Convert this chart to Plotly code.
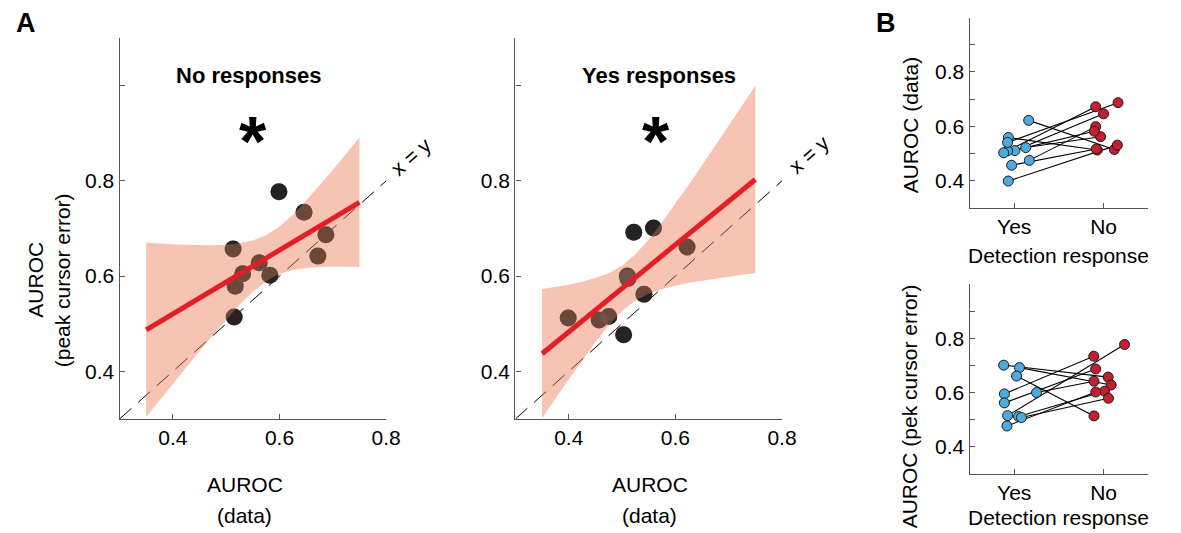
import plotly.graph_objects as go

# ---------------- data ----------------
# per-subject values (10 subjects)
yes_data = [0.559, 0.522, 0.622, 0.511, 0.510, 0.541, 0.475, 0.399, 0.457, 0.503]
yes_pred = [0.701, 0.692, 0.661, 0.595, 0.600, 0.562, 0.515, 0.512, 0.508, 0.477]
no_data = [0.513, 0.562, 0.515, 0.646, 0.672, 0.687, 0.599, 0.531, 0.517, 0.582]
no_pred = [0.657, 0.628, 0.514, 0.734, 0.642, 0.687, 0.777, 0.605, 0.579, 0.602]

# horizontal jitter of the paired plots (category 1 = Yes, 2 = No)
yes_x_top = [0.934, 1.129, 1.162, 1.007, 0.926, 0.926, 1.169, 0.934, 0.971, 0.882]
no_x_top = [1.930, 1.967, 2.121, 2.000, 1.912, 2.162, 1.912, 2.154, 1.919, 1.897]
yes_x_bot = [0.882, 1.059, 1.026, 0.890, 1.250, 0.890, 0.926, 1.048, 1.081, 0.919]
no_x_bot = [2.051, 2.085, 1.893, 1.890, 1.893, 1.912, 2.235, 2.011, 2.055, 1.912]

# regression fits and confidence bands
band_x = [0.35, 0.375, 0.40, 0.425, 0.45, 0.475, 0.50, 0.525, 0.55, 0.575,
          0.60, 0.625, 0.65, 0.675, 0.70, 0.725, 0.75]
no_fit_x = [0.35, 0.75]
no_fit_y = [0.487, 0.755]
no_band_hi = [0.670, 0.668, 0.667, 0.666, 0.665, 0.665, 0.666, 0.669, 0.675, 0.686,
              0.704, 0.729, 0.759, 0.790, 0.823, 0.857, 0.891]
no_band_lo = [0.304, 0.339, 0.374, 0.409, 0.443, 0.476, 0.509, 0.540, 0.567, 0.589,
              0.605, 0.613, 0.617, 0.619, 0.620, 0.620, 0.619]
yes_fit_x = [0.35, 0.75]
yes_fit_y = [0.437, 0.803]
yes_band_hi = [0.573, 0.577, 0.582, 0.588, 0.596, 0.606, 0.622, 0.646, 0.677, 0.713,
               0.752, 0.792, 0.833, 0.874, 0.916, 0.958, 1.000]
yes_band_lo = [0.301, 0.343, 0.383, 0.423, 0.461, 0.497, 0.527, 0.549, 0.563, 0.573,
               0.580, 0.586, 0.591, 0.595, 0.599, 0.603, 0.606]

identity = [0.3, 0.8]
a_ticks_x = [0.4, 0.6, 0.8]
a_ticks_y = [0.4, 0.6, 0.8, 1.0]
a_ticklab_y = ["0.4", "0.6", "0.8", ""]
b_ticks_y = [0.3, 0.4, 0.5, 0.6, 0.7, 0.8, 0.9, 1.0]
b_ticklab_y = ["", "0.4", "", "0.6", "", "0.8", "", ""]
b_cats = ["Yes", "No"]

# ---------------- style / layout ----------------
WIN_W, WIN_H = 1181, 533
OFF = 8                      # default page margin around the figure
FW, FH = WIN_W - OFF, WIN_H - OFF
FONT = "Liberation Sans, Arial, Helvetica, sans-serif"
AX = "#555555"
BAND = "rgba(236,120,84,0.44)"
RED = "#E41E26"
BLUE = "#4CAADD"
DRED = "#C41F30"


def px(x):
    return (x - OFF) / FW


def py(y):
    return 1 - (y - OFF) / FH


def dx(p0, p1):
    return [px(p0), px(p1)]


def dy(top, bottom):
    return [py(bottom), py(top)]


fig = go.Figure()


def scatter_panel(xa, ya, xd, yd, fx, fy, hi, lo):
    fig.add_trace(go.Scatter(x=identity, y=identity, mode="lines", xaxis=xa, yaxis=ya,
                             line=dict(color="black", width=1, dash="16px,9px"),
                             showlegend=False, hoverinfo="skip"))
    fig.add_trace(go.Scatter(x=xd, y=yd, mode="markers", xaxis=xa, yaxis=ya,
                             marker=dict(color="black", size=17, line=dict(width=0)),
                             showlegend=False, cliponaxis=False))
    fig.add_trace(go.Scatter(x=band_x + band_x[::-1], y=hi + lo[::-1], mode="lines",
                             xaxis=xa, yaxis=ya, fill="toself", fillcolor=BAND,
                             line=dict(width=0), showlegend=False, hoverinfo="skip"))
    fig.add_trace(go.Scatter(x=xd, y=yd, mode="markers", xaxis=xa, yaxis=ya,
                             marker=dict(color="rgba(120,115,110,0.30)", size=17,
                                         line=dict(width=0)),
                             showlegend=False, cliponaxis=False, hoverinfo="skip"))
    fig.add_trace(go.Scatter(x=fx, y=fy, mode="lines", xaxis=xa, yaxis=ya,
                             line=dict(color=RED, width=5), showlegend=False))


scatter_panel("x", "y", no_data, no_pred, no_fit_x, no_fit_y, no_band_hi, no_band_lo)
scatter_panel("x2", "y2", yes_data, yes_pred, yes_fit_x, yes_fit_y, yes_band_hi, yes_band_lo)


def paired_panel(xa, ya, xy, yv, xn, nv):
    lx, ly = [], []
    for i in range(len(yv)):
        lx += [xy[i], xn[i], None]
        ly += [yv[i], nv[i], None]
    fig.add_trace(go.Scatter(x=lx, y=ly, mode="lines", xaxis=xa, yaxis=ya,
                             line=dict(color="black", width=1.1), showlegend=False))
    fig.add_trace(go.Scatter(x=xy, y=yv, mode="markers", xaxis=xa, yaxis=ya,
                             marker=dict(color=BLUE, size=10, line=dict(color="#1a1a1a", width=1)),
                             showlegend=False, cliponaxis=False))
    fig.add_trace(go.Scatter(x=xn, y=nv, mode="markers", xaxis=xa, yaxis=ya,
                             marker=dict(color=DRED, size=10, line=dict(color="#1a1a1a", width=1)),
                             showlegend=False, cliponaxis=False))


paired_panel("x3", "y3", yes_x_top, yes_data, no_x_top, no_data)
paired_panel("x4", "y4", yes_x_bot, yes_pred, no_x_bot, no_pred)

tickfont = dict(family=FONT, size=21, color="black")
common = dict(showgrid=False, zeroline=False, showline=True, linecolor=AX, linewidth=1.3,
              ticks="inside", ticklen=5, tickcolor=AX, tickwidth=1.2, tickfont=tickfont,
              mirror=False)

A_TOP, A_BOT = 38, 419
fig.update_layout(
    width=FW, height=FH, margin=dict(l=0, r=0, t=0, b=0),
    paper_bgcolor="white", plot_bgcolor="white",
    font=dict(family=FONT, color="black"),
    xaxis=dict(domain=dx(121, 391), range=[0.3, 0.8], tickvals=a_ticks_x, anchor="y", **common),
    yaxis=dict(domain=dy(A_TOP, A_BOT), range=[0.3, 1.1], tickvals=a_ticks_y,
               ticktext=a_ticklab_y, anchor="x", **common),
    xaxis2=dict(domain=dx(522, 792), range=[0.3, 0.8], tickvals=a_ticks_x, anchor="y2", **common),
    yaxis2=dict(domain=dy(A_TOP, A_BOT), range=[0.3, 1.1], tickvals=a_ticks_y,
                ticktext=a_ticklab_y, anchor="x2", **common),
    xaxis3=dict(domain=dx(982, 1163), range=[0.5, 2.5], tickvals=[1, 2], ticktext=b_cats,
                anchor="y3", **common),
    yaxis3=dict(domain=dy(17.5, 208), range=[0.3, 1.0], tickvals=b_ticks_y,
                ticktext=b_ticklab_y, anchor="x3", **common),
    xaxis4=dict(domain=dx(982, 1163), range=[0.5, 2.5], tickvals=[1, 2], ticktext=b_cats,
                anchor="y4", **common),
    yaxis4=dict(domain=dy(284, 474), range=[0.3, 1.0], tickvals=b_ticks_y,
                ticktext=b_ticklab_y, anchor="x4", **common),
)


def txt(x, y, s, size=21, bold=False, angle=0):
    fig.add_annotation(x=px(x), y=py(y), xref="paper", yref="paper", text=s,
                       showarrow=False, textangle=angle, xanchor="center", yanchor="middle",
                       font=dict(family=FONT, size=size, color="black",
                                 weight="bold" if bold else "normal"))


txt(26, 23, "A", size=27, bold=True)
txt(897, 23, "B", size=27, bold=True)
txt(252, 75, "No responses", size=22, bold=True)
txt(667, 75, "Yes responses", size=22, bold=True)
txt(256, 142, "*", size=70, bold=True)
txt(664, 142, "*", size=70, bold=True)
txt(416, 156, "x = y", angle=-41)
txt(819, 154, "x = y", angle=-41)
txt(35, 280, "AUROC", angle=-90)
txt(63, 280, "(peak cursor error)", angle=-90)
txt(248, 484, "AUROC")
txt(248, 515, "(data)")
txt(658, 484, "AUROC")
txt(658, 515, "(data)")
txt(922, 125, "AUROC (data)", angle=-90)
txt(1072, 255, "Detection response")
txt(921, 406, "AUROC (pek cursor error)", angle=-90)
txt(1072, 517, "Detection response")

fig.write_html("out.html")
